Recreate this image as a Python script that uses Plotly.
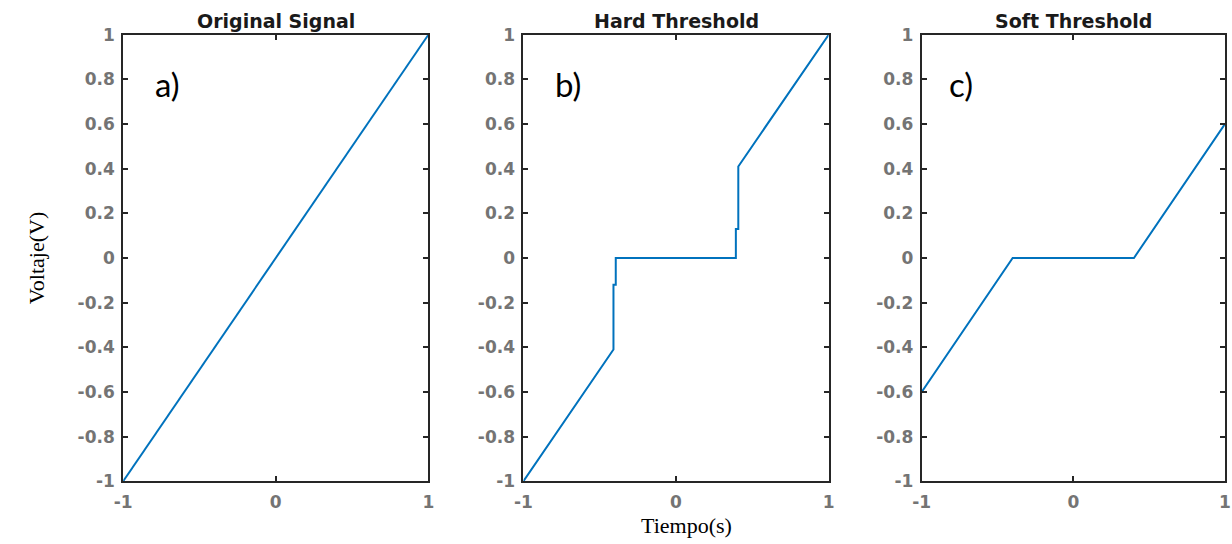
import plotly.graph_objects as go
from plotly.subplots import make_subplots

# ---- data ----
titles = ["Original Signal", "Hard Threshold", "Soft Threshold"]
panel_labels = ["a)", "b)", "c)"]

t_orig = [-1, 1]
v_orig = [-1, 1]

t_hard = [-1, -0.41, -0.41, -0.395, -0.395, 0.392, 0.392, 0.408, 0.408, 1]
v_hard = [-1, -0.41, -0.12, -0.12, 0, 0, 0.13, 0.13, 0.41, 1]

t_soft = [-1, -0.4, 0.4, 1]
v_soft = [-0.6, 0, 0, 0.6]

x_ticks = [-1, 0, 1]
x_ticklabels = ["-1", "0", "1"]
y_ticks = [-1, -0.8, -0.6, -0.4, -0.2, 0, 0.2, 0.4, 0.6, 0.8, 1]
y_ticklabels = ["-1", "-0.8", "-0.6", "-0.4", "-0.2", "0", "0.2", "0.4", "0.6", "0.8", "1"]

series = [(t_orig, v_orig), (t_hard, v_hard), (t_soft, v_soft)]

# ---- figure ----
W, H = 1232, 544
OFF = 8
SX, SY = 1232 / 1248, 544 / 560


def px(x):
    return min(1.0, max(0.0, (x / SX - OFF) / W))


def py(y):
    return min(1.0, max(0.0, 1 - (y / SY - OFF) / H))


fig = make_subplots(rows=1, cols=3)

line_color = "#0072BD"
for i, (t, v) in enumerate(series):
    fig.add_trace(go.Scatter(x=t, y=v, mode="lines",
                             line=dict(color=line_color, width=2),
                             showlegend=False), row=1, col=i + 1)

x_px = [(122, 427), (522, 827), (920, 1223)]
x_domains = [(px(a), px(b)) for a, b in x_px]
y_domain = (py(483), py(32.7))

tick_font = dict(family="DejaVu Sans", size=17, color="#747474", weight="bold")
axcol = "#262626"

for i in range(3):
    xa = "xaxis" if i == 0 else f"xaxis{i+1}"
    ya = "yaxis" if i == 0 else f"yaxis{i+1}"
    fig.layout[xa].update(domain=list(x_domains[i]), range=[-1, 1],
                          tickvals=x_ticks, ticktext=x_ticklabels,
                          ticks="inside", ticklen=5, tickwidth=1.5, tickcolor=axcol,
                          showline=True, linecolor=axcol, linewidth=2,
                          mirror="ticks", showgrid=False, zeroline=False,
                          ticklabelstandoff=4,
                          tickfont=tick_font)
    fig.layout[ya].update(domain=list(y_domain), range=[-1, 1],
                          tickvals=y_ticks, ticktext=y_ticklabels,
                          ticks="inside", ticklen=5, tickwidth=1.5, tickcolor=axcol,
                          showline=True, linecolor=axcol, linewidth=2,
                          mirror="ticks", showgrid=False, zeroline=False,
                          ticklabelstandoff=3,
                          tickfont=tick_font)

annotations = []
label_x = [166, 567, 959]
for i in range(3):
    cx = (x_domains[i][0] + x_domains[i][1]) / 2
    annotations.append(dict(text=f"<b>{titles[i]}</b>", x=cx, y=py(19),
                            xref="paper", yref="paper", showarrow=False,
                            xanchor="center", yanchor="middle",
                            font=dict(family="DejaVu Sans", size=19, color="#1a1a1a")))
    annotations.append(dict(text=panel_labels[i], x=px(label_x[i]), y=py(82),
                            xref="paper", yref="paper", showarrow=False,
                            xanchor="center", yanchor="middle",
                            font=dict(family="Lato", size=33, color="#000000")))

annotations.append(dict(text="Voltaje(V)", x=px(35), y=py(258),
                        xref="paper", yref="paper", showarrow=False, textangle=-90,
                        xanchor="center", yanchor="middle",
                        font=dict(family="Liberation Serif", size=22, color="#000000")))
annotations.append(dict(text="Tiempo(s)", x=px(685), y=py(528),
                        xref="paper", yref="paper", showarrow=False,
                        xanchor="center", yanchor="middle",
                        font=dict(family="Liberation Serif", size=22, color="#000000")))

fig.update_layout(width=W, height=H, margin=dict(l=0, r=0, t=0, b=0),
                  paper_bgcolor="white", plot_bgcolor="white",
                  annotations=annotations)

fig.write_html("out.html")
